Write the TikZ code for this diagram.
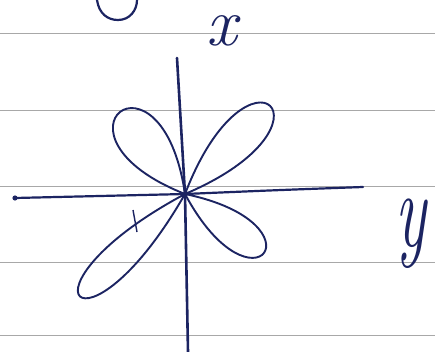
\documentclass[tikz,border=0pt]{standalone}
\usepackage{fontspec}
\usetikzlibrary{calc}
\definecolor{ink}{HTML}{1C2462}
\definecolor{rule}{HTML}{A8A8A8}
\tikzset{
  ruled/.style={draw=rule, line width=0.9pt},
  axis/.style={draw=ink, line width=2.6pt, line cap=round},
  petalline/.style={draw=ink, line width=1.9pt, line join=round},
  hand/.style={text=ink, inner sep=0pt},
}
\newcommand\mypetal[3]{%
  \draw[petalline] (O) .. controls ($(O)!#2!#3:(#1)$) and ($(O)!#2!-#3:(#1)$) .. (O);}
\begin{document}
\begin{tikzpicture}[x=1pt,y=-1pt]
\useasboundingbox[fill=white] (0,0) rectangle (435,352);
% ruled paper lines
\foreach \yy in {33,110,186,262,335}
  \draw[ruled] (0,\yy) -- (435,\yy);
% partial letter at the top edge
\draw[petalline, line width=2.2pt] (97,0) .. controls (99,14) and (108,20) .. (118,20)
  .. controls (130,20) and (137,10) .. (137,0);
% axes
\coordinate (O) at (185,194);
\coordinate (xtop) at (177,58);
\coordinate (xbot) at (188,352);
\coordinate (yl) at (15,198);
\coordinate (yr) at (363,187);
\draw[axis] (xtop) -- (O) -- (xbot);
\draw[axis, line width=2.2pt] (yl) .. controls (100,196) .. (O) .. controls (280,190) .. (yr);
\fill[ink] (yl) circle (2.6pt);
% petals
\coordinate (tUL) at (120,112);
\coordinate (tUR) at (270,106);
\coordinate (tLL) at (80,296);
\coordinate (tLR) at (264,253);
\mypetal{tUL}{1.54}{30}
\mypetal{tUR}{1.45}{23}
\mypetal{tLL}{1.39}{16}
\mypetal{tLR}{1.47}{25}
% small tick on lower-left petal
\draw[petalline, line width=1.4pt] (133,210) -- (137,232);
% labels
\node[hand, font=\fontsize{68}{68}\selectfont\itshape] (lx) at (222,31) {x};
\node[hand, font=\fontsize{108}{108}\selectfont\itshape, anchor=base] (ly) at (411,246) {\scalebox{0.6}[1]{y}};
\end{tikzpicture}
\end{document}
